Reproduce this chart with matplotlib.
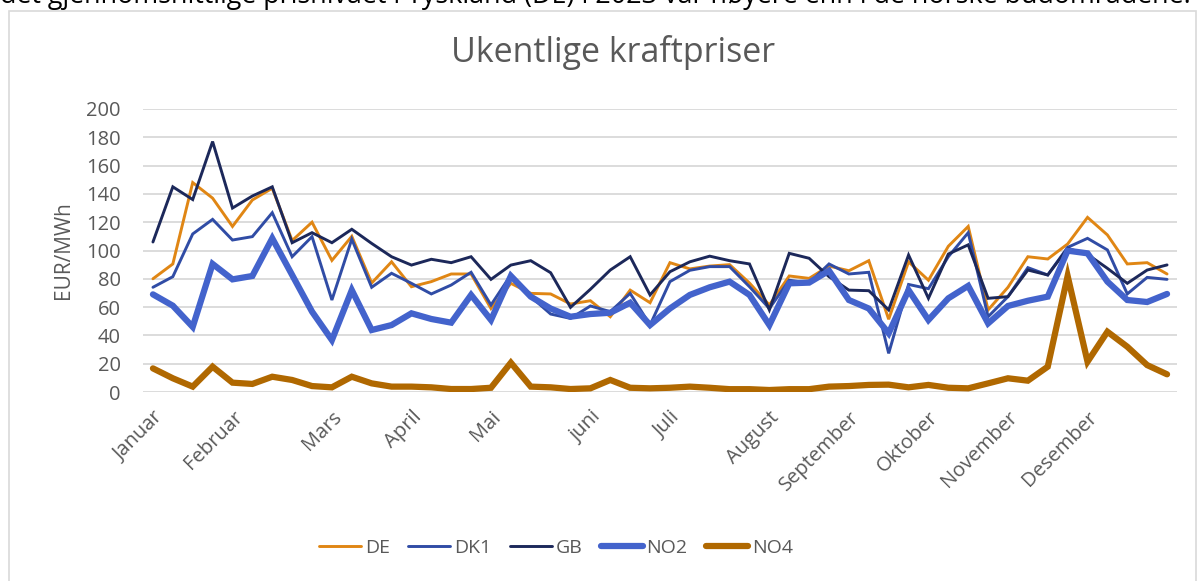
import matplotlib
matplotlib.use("Agg")
import matplotlib.pyplot as plt
from matplotlib.patches import Rectangle
import numpy as np

# ---- data -------------------------------------------------------------
month_labels = ["Januar", "Februar", "Mars", "April", "Mai", "juni", "Juli",
                "August", "September", "Oktober", "November", "Desember"]
month_week_idx = [0, 4, 9, 13, 17, 22, 26, 31, 35, 39, 43, 47]

DE = [80, 90.5, 148, 137, 117, 135.7, 144, 107, 120, 93, 110, 77, 92,
      74.4, 78, 83.4, 83.4, 59, 76.8, 69.7, 69.3, 62.2, 64.5, 53.2, 72, 63.1,
      91.4, 87, 89, 90, 77, 61.5, 82, 80.3, 89, 85.7, 92.8, 51.4, 92,
      79, 103, 117, 58, 74, 95.6, 94, 104.6, 123.4, 111, 90.5, 91.4, 83.4]
DK1 = [74, 81.5, 111.7, 122, 107.4, 109.8, 126.7, 95.6, 109.8, 65, 108, 74, 83.9,
       76.8, 69.3, 75.6, 84.6, 61.5, 82.7, 67.4, 55.1, 52, 60.8, 56.8, 69.7, 47.3,
       78, 86, 88.6, 88.6, 74.4, 59, 79, 77, 90.5, 83.4, 84.6, 27.3, 76,
       73, 95.6, 112.6, 53.2, 67.4, 87.9, 82.7, 102.2, 108.6, 100.4, 69.3, 81, 79.6]
GB = [106, 145, 136, 177, 130, 138.5, 145, 105.5, 112.6, 105.5, 115, 105, 95.6,
      89.7, 93.8, 91.4, 95.6, 79.6, 89.7, 92.8, 84.3, 59.8, 72.6, 86.2, 95.6, 68.6,
      85, 92, 96, 92.8, 90.5, 58, 98, 94.5, 81.5, 72, 71.6, 58, 96.8,
      66.2, 97.5, 104, 66.2, 67.4, 86.2, 82.7, 101.5, 97.3, 87.4, 76.8, 86.2, 89.8]
NO2 = [69, 61, 46, 90.5, 79.6, 82, 108.6, 82.7, 56.8, 36.7, 72, 43.8, 47.3,
       55.6, 51.6, 49, 68.6, 50.9, 82, 67.4, 59, 53.2, 55.1, 56, 63.1, 47.3,
       59, 68.6, 74, 78, 68.6, 47.3, 76.8, 77.3, 85.7, 65, 59, 41.5, 72,
       50.9, 66.2, 75, 48.5, 60.8, 64.5, 67.4, 99.9, 98, 78, 65, 63.6, 69.3]
NO4 = [16.7, 9.7, 3.8, 17.9, 6.6, 5.7, 10.8, 8.5, 4.2, 3.3, 10.8, 6.1, 3.8,
       3.8, 3.3, 2.1, 2.1, 3, 20.7, 3.8, 3.3, 2.1, 2.6, 8.5, 3, 2.6,
       3, 3.8, 3, 2, 2, 1.4, 2, 2, 3.8, 4.2, 5, 5.2, 3.3,
       5, 3, 2.6, 6.1, 9.7, 8, 17.9, 82, 21.4, 42.6, 32, 19, 12.5]

series = [("DE", DE), ("DK1", DK1), ("GB", GB), ("NO2", NO2), ("NO4", NO4)]
colors = {"DE": "#E08614", "DK1": "#304CA5", "GB": "#1C285A",
          "NO2": "#4363CC", "NO4": "#B06800"}
widths = {"DE": 2.1, "DK1": 2.1, "GB": 2.1, "NO2": 4.5, "NO4": 4.5}

title = "Ukentlige kraftpriser"
ylabel = "EUR/MWh"
top_text = ("det gjennomsnittlige prisnivået i Tyskland (DE) i 2023 var høyere "
            "enn i de norske budområdene.")

# ---- figure -----------------------------------------------------------
W, H = 1202, 581
plt.rcParams['font.family'] = ['Open Sans', 'DejaVu Sans']
fig = plt.figure(figsize=(W / 100, H / 100), dpi=100)
fig.patch.set_facecolor("white")

# chart-area border
fig.patches.append(Rectangle((9 / W, -0.05), (1196 - 9) / W, 1.05 - 11 / H,
                             transform=fig.transFigure, fill=False,
                             edgecolor="#D9D9D9", lw=1.2, zorder=0))

ax = fig.add_axes([143 / W, 1 - 392 / H, (1177 - 143) / W, (392 - 109) / H])
x = np.arange(len(DE))
for name, vals in series:
    ax.plot(x, vals, color=colors[name], lw=widths[name], label=name,
            solid_joinstyle="miter", solid_capstyle="round")

ax.set_xlim(-0.5, len(DE) - 0.5)
ax.set_ylim(0, 200)
ax.set_yticks(np.arange(0, 201, 20))
ax.grid(axis="y", color="#D9D9D9", lw=1.3)
ax.set_axisbelow(True)
for s in ax.spines.values():
    s.set_visible(False)
ax.tick_params(axis="both", length=0, colors="#595959", labelsize=14.5)
ax.tick_params(axis="y", pad=16)
ax.set_xticks(month_week_idx)
ax.set_xticklabels(month_labels, rotation=45, ha="right", va="top",
                   rotation_mode="anchor", color="#595959", fontsize=14.5)
ax.tick_params(axis="x", pad=11)
ax.set_ylabel(ylabel, color="#595959", fontsize=15, labelpad=9)

fig.text(613 / W, 1 - 53 / H, title, ha="center", va="center",
         color="#595959", fontsize=24.5)

leg = fig.legend(loc="center", bbox_to_anchor=(556 / W, 1 - 548 / H),
                 ncol=5, frameon=False, fontsize=14, handlelength=2.15,
                 handletextpad=0.2, columnspacing=0.95)
for t in leg.get_texts():
    t.set_color("#595959")

# document text cut off by the top edge
t = fig.text(0, 1 - 3 / H, top_text, ha="left", va="baseline",
             color="black", fontsize=16)
r = fig.canvas.get_renderer()
w = t.get_window_extent(r).width
t.set_fontsize(16 * 1195 / w)

fig.savefig("out.png", dpi=100)
